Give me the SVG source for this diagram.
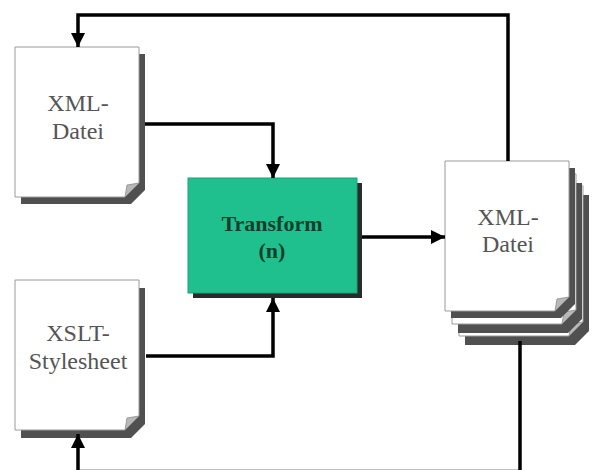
<svg xmlns="http://www.w3.org/2000/svg" width="592" height="470" viewBox="0 0 592 470">
  <defs>
    <marker id="arrow" viewBox="0 0 14 14" refX="14" refY="7" markerWidth="14" markerHeight="14" markerUnits="userSpaceOnUse" orient="auto">
      <path d="M0,0 L14,7 L0,14 Z" fill="#000"/>
    </marker>
    <!-- page with folded bottom-right corner, 124 x 150 -->
    <path id="page" d="M0,0 H124 V136 L110,150 H0 Z"/>
    <path id="fold" d="M110,150 L124,136 L112,138 Z"/>
  </defs>
  <style>
    .shadow { fill: #505050; }
    .sheet { fill: #fff; stroke: #9a9a9a; stroke-width: 1; }
    .dogear { fill: #b8b8b8; stroke: #8a8a8a; stroke-width: 0.8; }
    .doc-label { font-family: "Liberation Serif", "Times New Roman", serif; font-size: 24px; fill: #555; text-anchor: middle; }
    .proc-label { font-family: "Liberation Serif", "Times New Roman", serif; font-size: 22px; font-weight: bold; fill: #123f2c; text-anchor: middle; }
    .conn { fill: none; stroke: #000; stroke-width: 3.5; stroke-linejoin: miter; }
  </style>

  <rect width="592" height="470" fill="#fff"/>

  <!-- input document -->
  <g id="xml-input">
    <use href="#page" class="shadow" transform="translate(21,54)"/>
    <use href="#page" class="sheet" transform="translate(15,47)"/>
    <use href="#fold" class="dogear" transform="translate(15,47)"/>
    <text class="doc-label" x="78" y="111">XML-</text>
    <text class="doc-label" x="78" y="139">Datei</text>
  </g>

  <!-- stylesheet document -->
  <g id="xslt">
    <use href="#page" class="shadow" transform="translate(21,288)"/>
    <use href="#page" class="sheet" transform="translate(15,280)"/>
    <use href="#fold" class="dogear" transform="translate(15,280)"/>
    <text class="doc-label" x="78" y="341">XSLT-</text>
    <text class="doc-label" x="78" y="369">Stylesheet</text>
  </g>

  <!-- transformation step -->
  <g id="transform">
    <rect x="193" y="183" width="169" height="115" fill="#2a2a2a"/>
    <rect x="188" y="178" width="169" height="115" fill="#20c08e" stroke="#17a479" stroke-width="1"/>
    <text class="proc-label" x="272" y="231">Transform</text>
    <text class="proc-label" x="272" y="258">(n)</text>
  </g>

  <!-- output documents (stack of three) -->
  <g id="xml-output">
    <use href="#page" class="shadow" transform="translate(465,195)"/>
    <use href="#page" class="sheet" transform="translate(459,186)"/>
    <use href="#fold" class="dogear" transform="translate(459,186)"/>
    <use href="#page" class="shadow" transform="translate(458,183)"/>
    <use href="#page" class="sheet" transform="translate(452,174)"/>
    <use href="#fold" class="dogear" transform="translate(452,174)"/>
    <use href="#page" class="shadow" transform="translate(451,168)"/>
    <use href="#page" class="sheet" transform="translate(445,161)"/>
    <use href="#fold" class="dogear" transform="translate(445,161)"/>
    <text class="doc-label" x="508" y="225">XML-</text>
    <text class="doc-label" x="508" y="252">Datei</text>
  </g>

  <g id="connectors">
    <path class="conn" d="M145,124 H273 V178" marker-end="url(#arrow)"/>
    <path class="conn" d="M146,356 H273 V298" marker-end="url(#arrow)"/>
    <path class="conn" d="M362,237 H445" marker-end="url(#arrow)"/>
    <path class="conn" d="M508,161 V15 H78 V47" marker-end="url(#arrow)"/>
    <path class="conn" d="M520,341 V471.5 H78 V434" marker-end="url(#arrow)"/>
  </g>
</svg>
